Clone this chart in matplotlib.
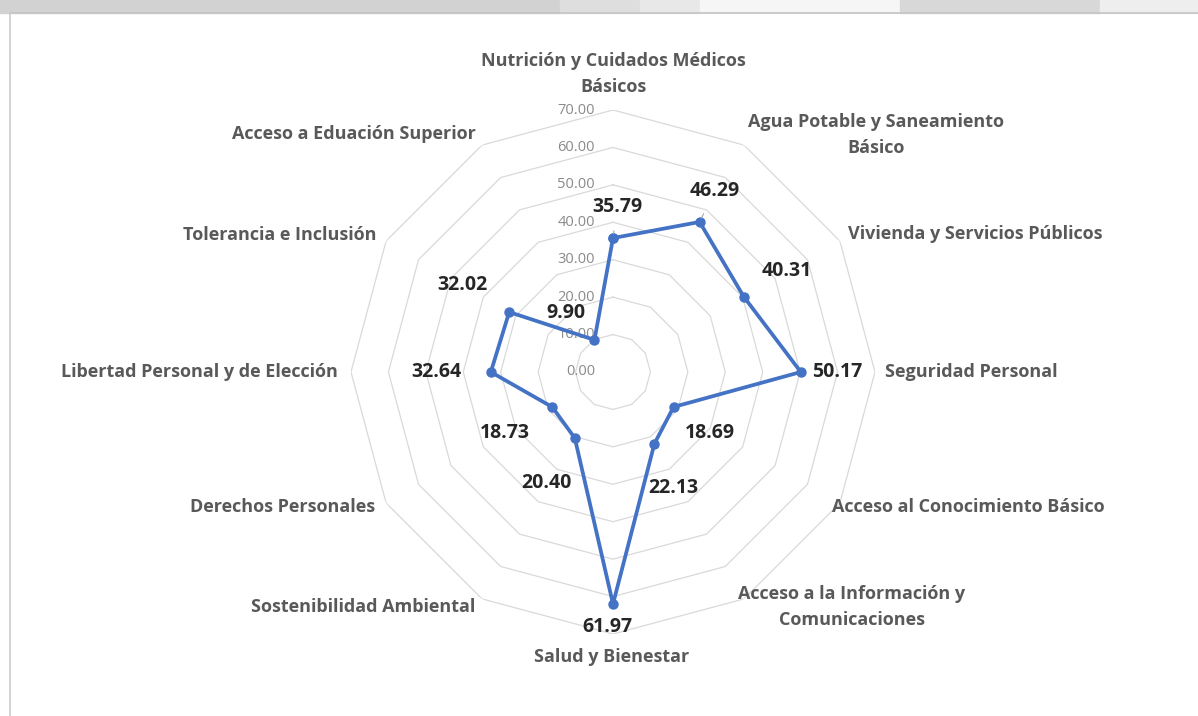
import numpy as np
import matplotlib
matplotlib.use("Agg")
import matplotlib.pyplot as plt
from matplotlib.patches import Rectangle

categories = [
    "Nutrición y Cuidados Médicos\nBásicos",
    "Agua Potable y Saneamiento\nBásico",
    "Vivienda y Servicios Públicos",
    "Seguridad Personal",
    "Acceso al Conocimiento Básico",
    "Acceso a la Información y\nComunicaciones",
    "Salud y Bienestar",
    "Sostenibilidad Ambiental",
    "Derechos Personales",
    "Libertad Personal y de Elección",
    "Tolerancia e Inclusión",
    "Acceso a Eduación Superior",
]
values = [35.79, 46.29, 40.31, 50.17, 18.69, 22.13, 61.97, 20.40, 18.73, 32.64, 32.02, 9.90]
ticks = [0, 10, 20, 30, 40, 50, 60, 70]

# label nudges in pixels (dx, dy up), Excel-style placement
cat_nudge = [(0, 14), (4, 10), (8, 7), (10, 0), (-8, -4), (-6, -8),
             (-1, -14), (-7, -8), (-11, -4), (-13, 0), (-10, 6), (-6, 11)]
val_nudge = [(4, 31), (15, 31), (43, 26), (36, 0), (36, -26), (19, -44),
             (-6, -23), (-28, -45), (-47, -26), (-54, 0), (-47, 27), (-29, 27)]

BLUE = "#4472C4"
GRID = "#d9d9d9"
FONT = ["Open Sans", "DejaVu Sans"]

W, H = 1198, 716
fig = plt.figure(figsize=(W / 100, H / 100), dpi=100)
fig.patch.set_facecolor("white")

# faded background strip at the top + chart frame
for x0, x1, c in [(0, 560, "#d2d2d2"), (560, 640, "#dedede"), (640, 700, "#e8e8e8"),
                  (700, 900, "#f6f6f6"), (900, 1100, "#d8d8d8"), (1100, 1198, "#eeeeee")]:
    fig.patches.append(Rectangle((x0 / W, 1 - 13 / H), (x1 - x0) / W, 13 / H,
                                 transform=fig.transFigure, color=c, zorder=0))
fig.add_artist(plt.Line2D([10 / W, 1], [1 - 13 / H, 1 - 13 / H], transform=fig.transFigure,
                          color="#c4c4c4", lw=1.2))
fig.add_artist(plt.Line2D([10 / W, 10 / W], [0, 1 - 13 / H], transform=fig.transFigure,
                          color="#cccccc", lw=1.2))

cx, cy, R = 613, 372, 262
ax = fig.add_axes([(cx - R) / W, (H - cy - R) / H, 2 * R / W, 2 * R / H], projection="polar")
ax.set_theta_zero_location("N")
ax.set_theta_direction(-1)
ax.set_ylim(0, 70)
ax.grid(False)
ax.spines["polar"].set_visible(False)
ax.set_xticks([]); ax.set_yticks([])
ax.patch.set_alpha(0)

n = len(categories)
ang = np.arange(n) * 2 * np.pi / n
ang_c = np.append(ang, ang[0])

# polygon gridlines
for t in ticks[1:]:
    ax.plot(ang_c, [t] * (n + 1), color=GRID, lw=0.9, zorder=1)

for t in ticks:
    ax.annotate(f"{t:.2f}", xy=(0, t), xytext=(-18, 0), textcoords="offset pixels",
                ha="right", va="center", fontsize=10.5, color="#8a8a8a", family=FONT, zorder=2)

vals_c = np.append(values, values[0])
ax.plot(ang_c, vals_c, color=BLUE, lw=2.7, marker="o", ms=6.5, mfc=BLUE, mec=BLUE, zorder=3)

for i, (a, v) in enumerate(zip(ang, values)):
    dx, dy = val_nudge[i]
    arrow = dict(arrowstyle="-", color="#a6a6a6", lw=0.8, shrinkA=8, shrinkB=3) if i < 2 else None
    ax.annotate(f"{v:.2f}", xy=(a, v), xytext=(dx, dy), textcoords="offset pixels",
                ha="center", va="center", fontsize=14, fontweight="bold", color="#262626",
                family=FONT, zorder=4, arrowprops=arrow)

for i, (a, lab) in enumerate(zip(ang, categories)):
    s, c = np.sin(a), np.cos(a)
    ha = "left" if s > 0.1 else ("right" if s < -0.1 else "center")
    va = "bottom" if c > 0.99 else ("top" if c < -0.99 else "center")
    dx, dy = cat_nudge[i]
    ax.annotate(lab, xy=(a, 70), xytext=(dx, dy), textcoords="offset pixels",
                ha=ha, va=va, multialignment="center", fontsize=13, fontweight="bold",
                color="#595959", family=FONT, linespacing=1.55, annotation_clip=False)

fig.savefig("out.png", dpi=100)
